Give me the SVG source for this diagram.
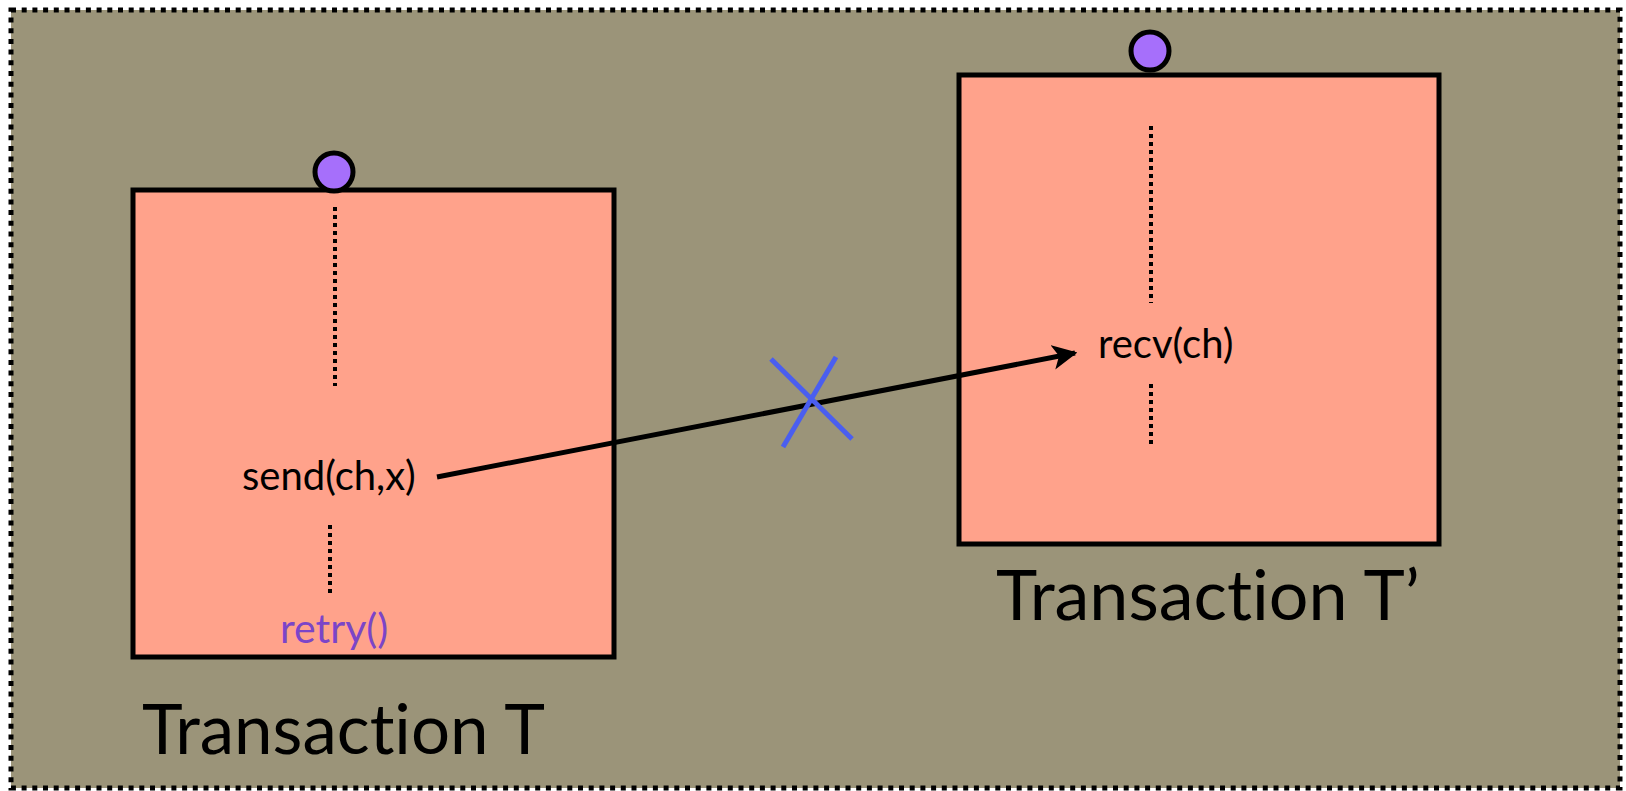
<svg xmlns="http://www.w3.org/2000/svg" width="1626" height="791" viewBox="0 0 1626 791">
<defs>
<style>
.box{fill:#ffa28b;stroke:#000;stroke-width:5}
.dot{fill:#a66ffb;stroke:#000;stroke-width:5}
.vd{stroke:#000;stroke-width:4;stroke-dasharray:4 4;fill:none}
.lbl{font-family:Lato,"Open Sans",sans-serif;font-size:40px;fill:#000;font-variant-ligatures:none}
.big{font-family:Lato,"Open Sans",sans-serif;font-size:69px;fill:#000;font-variant-ligatures:none}
</style>
<marker id="ah" viewBox="0 0 10 10" refX="9" refY="5" markerWidth="5" markerHeight="5" orient="auto" markerUnits="strokeWidth">
<path d="M0,0 L10,5 L0,10 L2.5,5 Z" fill="#000"/>
</marker>
</defs>
<rect x="0" y="0" width="1626" height="791" fill="#fff"/>
<rect x="11" y="10" width="1609" height="778" fill="#9b9479" stroke="#000" stroke-width="5" stroke-dasharray="5 5.7"/>
<g id="txA">
<rect class="box" x="133" y="190" width="481" height="467"/>
<line class="vd" x1="335" y1="207" x2="335" y2="386"/>
<line class="vd" x1="330" y1="525" x2="330" y2="593"/>
<text class="lbl" x="242" y="490">send(ch,x)</text>
<text class="lbl" x="280" y="643" style="fill:#7b45c8;font-size:41px">retry()</text>
<circle class="dot" cx="334" cy="172" r="19"/>
<text class="big" x="142" y="754">Transaction T</text>
</g>
<g id="txB">
<rect class="box" x="959" y="75" width="480" height="469"/>
<line class="vd" x1="1151" y1="126" x2="1151" y2="303"/>
<line class="vd" x1="1151" y1="384" x2="1151" y2="448"/>
<text class="lbl" x="1098" y="358" style="font-size:40px">recv(ch)</text>
<circle class="dot" cx="1150" cy="51" r="19"/>
<text class="big" x="996" y="620" style="font-size:70px">Transaction T’</text>
</g>
<g id="connectors">
<line x1="437" y1="477" x2="1075" y2="353" stroke="#000" stroke-width="5" marker-end="url(#ah)"/>
<g id="cross" stroke="#4a5ef0" stroke-width="5">
<line x1="771" y1="359" x2="852" y2="439"/>
<line x1="836" y1="357" x2="783" y2="447"/>
</g>
</g>
</svg>
